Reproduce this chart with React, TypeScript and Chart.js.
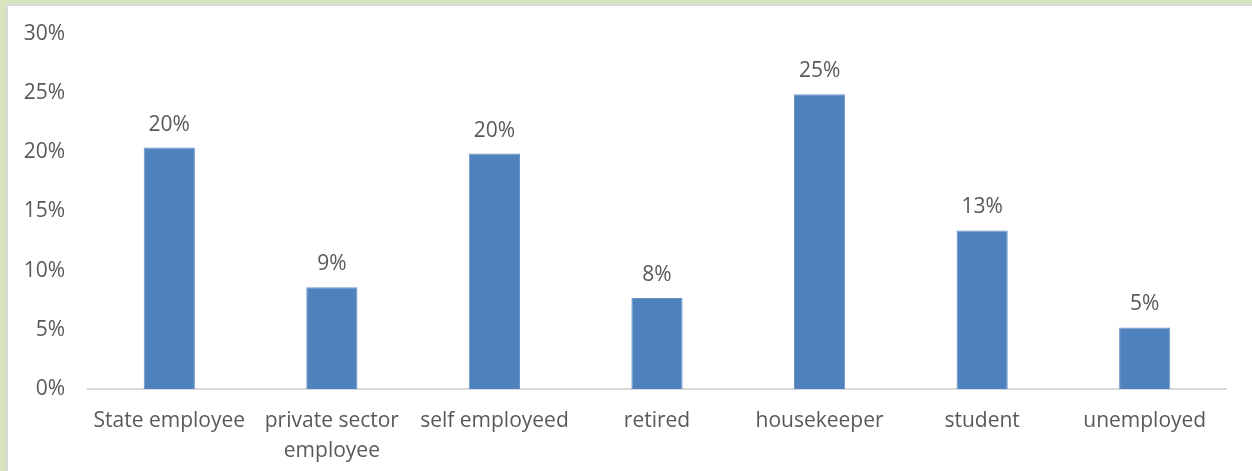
import React, { useEffect, useRef } from "react";
import { Chart, registerables } from "chart.js";

Chart.register(...registerables);

const categories: (string | string[])[] = [
  "State employee",
  ["private sector", "employee"],
  "self employeed",
  "retired",
  "housekeeper",
  "student",
  "unemployed",
];
const shares: number[] = [20.4, 8.6, 19.9, 7.7, 24.9, 13.4, 5.2];
const yTicks: number[] = [0, 5, 10, 15, 20, 25, 30];

const FONT = "'Open Sans'";
const TEXT = "#595959";
const SIZE = 21;

const labelPlugin = {
  id: "barLabels",
  afterDatasetsDraw(chart: any) {
    const ctx = chart.ctx;
    const meta = chart.getDatasetMeta(0);
    ctx.save();
    ctx.fillStyle = TEXT;
    ctx.font = `${SIZE}px ${FONT}`;
    ctx.textAlign = "center";
    ctx.textBaseline = "middle";
    meta.data.forEach((el: any, i: number) => {
      const v = chart.data.datasets[0].data[i] as number;
      ctx.fillText(`${Math.round(v)}%`, el.x, el.y - 23);
    });
    ctx.restore();
  },
};

export default function App() {
  const ref = useRef<HTMLCanvasElement>(null);
  useEffect(() => {
    document.body.style.margin = "0";
    const chart = new Chart(ref.current!, {
      type: "bar",
      data: {
        labels: categories,
        datasets: [
          {
            data: shares,
            backgroundColor: "#4f81bd",
            borderColor: "#6a94c8",
            borderWidth: 1,
            categoryPercentage: 1,
            barPercentage: 0.315,
          },
        ],
      },
      options: {
        animation: false,
        responsive: false,
        maintainAspectRatio: false,
        layout: { padding: { top: 28, right: 26, left: 0, bottom: 0 } },
        plugins: { legend: { display: false }, tooltip: { enabled: false } },
        scales: {
          y: {
            min: 0,
            max: 30,
            afterBuildTicks: (s: any) => {
              s.ticks = yTicks.map((v) => ({ value: v }));
            },
            afterFit: (s: any) => {
              s.width = 80;
              s.paddingTop = 0;
              s.paddingBottom = 0;
            },
            grid: { display: false, drawTicks: false },
            border: { display: false },
            ticks: {
              padding: 23,
              color: TEXT,
              font: { family: FONT, size: SIZE },
              callback: (v: any) => `${v}%`,
            },
          },
          x: {
            grid: { display: false, drawTicks: false },
            border: { display: true, color: "#d9d9d9", width: 2 },
            afterFit: (s: any) => {
              s.height = 82;
              s.paddingTop = 0;
            },
            ticks: {
              padding: 17,
              color: TEXT,
              maxRotation: 0,
              autoSkip: false,
              font: { family: FONT, size: SIZE, lineHeight: 1.43 },
            },
          },
        },
      },
      plugins: [labelPlugin],
    });
    return () => chart.destroy();
  }, []);

  return (
    <div
      style={{
        position: "fixed",
        left: 0,
        top: 0,
        width: 1252,
        height: 471,
        background: "#d7e4bd",
        overflow: "hidden",
      }}
    >
      <div
        style={{
          position: "absolute",
          left: 6,
          top: 4,
          width: 1246,
          height: 467,
          background: "#d9d9d9",
        }}
      />
      <div
        style={{
          position: "absolute",
          left: 8,
          top: 6,
          width: 1244,
          height: 465,
          background: "#ffffff",
        }}
      >
        <canvas ref={ref} width={1244} height={465} style={{ display: "block" }} />
      </div>
    </div>
  );
}
